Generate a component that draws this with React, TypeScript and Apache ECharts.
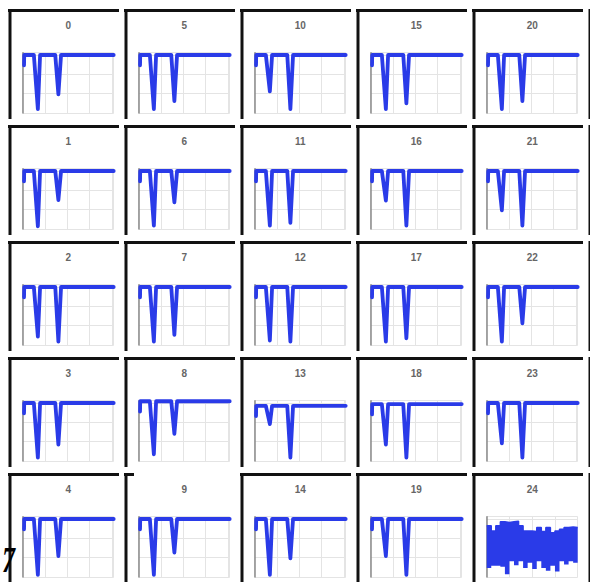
import React, { useEffect, useRef } from "react";
import * as echarts from "echarts";

// ---- data ----
const cellLabels = ["0","1","2","3","4","5","6","7","8","9","10","11","12","13","14","15","16","17","18","19","20","21","22","23","24"];
// minimum of the first dip for panels 0..23
const dip1Min = [-0.95, -0.97, -0.87, -0.96, -0.98, -0.95, -0.96, -0.96, -0.90, -0.98, -0.64, -0.96, -0.94, -0.37, -0.98, -0.95, -0.52, -0.96, -0.73, -0.65, -0.95, -0.69, -0.96, -0.71];
// minimum of the second dip for panels 0..23
const dip2Min = [-0.69, -0.51, -0.96, -0.73, -0.65, -0.81, -0.55, -0.84, -0.54, -0.59, -0.95, -0.91, -0.96, -0.96, -0.69, -0.85, -0.96, -0.90, -0.96, -0.98, -0.81, -0.96, -0.64, -0.96];
// flat level of each trace for panels 0..23
const baseLevel = [0, 0, 0, 0, 0, 0, 0, 0, 0.03, 0, 0, 0, 0, -0.05, 0, 0, 0, 0, -0.02, 0, 0, 0, 0, 0];
const startDrop = -0.18;
// x positions of the profile: start, flat, dip1 start, dip1 min, dip1 end, dip2 start, dip2 min, dip2 end, end
const profileX = [1.5, 1.7, 12.5, 17, 19.5, 36.5, 40, 43, 102];
// panel 24: envelope of the noisy band, 20 bins
const noiseTop = [-0.12, -0.21, -0.12, -0.05, -0.06, -0.05, -0.04, -0.12, -0.21, -0.21, -0.22, -0.15, -0.22, -0.15, -0.24, -0.21, -0.18, -0.15, -0.14, -0.15];
const noiseBottom = [-0.86, -0.82, -0.82, -0.84, -0.97, -0.74, -0.81, -0.74, -0.86, -0.77, -0.88, -0.74, -0.86, -0.91, -0.82, -0.92, -0.74, -0.80, -0.74, -0.77];

const BLUE = "#2a3be8";
const GRID_COLOR = "#e4e4e4";

export default function App() {
  const ref = useRef<HTMLDivElement>(null);
  useEffect(() => {
    if (!ref.current) return;
    const chart = echarts.init(ref.current, undefined, { renderer: "svg" });
    const grids: any[] = [];
    const xAxes: any[] = [];
    const yAxes: any[] = [];
    const series: any[] = [];
    const graphics: any[] = [];
    const PITCH = 116;
    for (let i = 0; i < 25; i++) {
      const col = Math.floor(i / 5);
      const row = i % 5;
      const ox = 9 + col * PITCH;
      const oy = 9 + row * PITCH;
      const gl = ox + 13.7;
      const gt = oy + 43.7;
      const gw = 91;
      const gh = 60.4;
      grids.push({ left: gl, top: gt, width: gw, height: gh, containLabel: false });
      yAxes.push({
        gridIndex: i,
        type: "value",
        min: -1.02,
        max: 0.04,
        interval: 0.34,
        axisLine: { show: true, onZero: false, lineStyle: { color: "#8a8a8a", width: 1.5 } },
        axisTick: { show: false },
        axisLabel: { show: false },
        splitLine: { show: true, lineStyle: { color: GRID_COLOR, width: 1 } },
      });
      if (i < 24) {
        xAxes.push({
          gridIndex: i,
          type: "value",
          min: 0,
          max: 102,
          interval: 25,
          axisLine: { show: false },
          axisTick: { show: false },
          axisLabel: { show: false },
          splitLine: { show: true, lineStyle: { color: GRID_COLOR, width: 1 } },
        });
        const b = baseLevel[i];
        const ys = [b + startDrop, b, b, dip1Min[i], b, b, dip2Min[i], b, b];
        series.push({
          type: "line",
          xAxisIndex: i,
          yAxisIndex: i,
          symbol: "none",
          silent: true,
          data: profileX.map((x, k) => [x, ys[k]]),
          lineStyle: { color: BLUE, width: 3.8, join: "round", cap: "round" },
        });
      } else {
        const edges = noiseBottom.map((_, k) => String(k)).concat([String(noiseBottom.length)]);
        const lower = noiseBottom.concat([noiseBottom[noiseBottom.length - 1]]);
        const upper = noiseTop.concat([noiseTop[noiseTop.length - 1]]);
        const diff = upper.map((u, k) => +(u - lower[k]).toFixed(3));
        xAxes.push({
          gridIndex: i,
          type: "category",
          boundaryGap: false,
          data: edges,
          axisLine: { show: false },
          axisTick: { show: false },
          axisLabel: { show: false },
          splitLine: { show: true, interval: 4, lineStyle: { color: GRID_COLOR, width: 1 } },
        });
        series.push({
          type: "line",
          xAxisIndex: i,
          yAxisIndex: i,
          stack: "noise",
          stackStrategy: "all",
          step: "end",
          symbol: "none",
          silent: true,
          data: lower,
          lineStyle: { width: 0, opacity: 0 },
        });
        series.push({
          type: "line",
          xAxisIndex: i,
          yAxisIndex: i,
          stack: "noise",
          stackStrategy: "all",
          step: "end",
          symbol: "none",
          silent: true,
          data: diff,
          lineStyle: { color: BLUE, width: 1.5 },
          areaStyle: { color: BLUE, opacity: 1 },
        });
      }
      // panel title
      graphics.push({
        type: "text",
        x: gl + gw / 2,
        y: oy + 16,
        z: 20,
        style: {
          text: cellLabels[i],
          textAlign: "center",
          textVerticalAlign: "middle",
          fontSize: 10,
          fontWeight: "bold",
          fontFamily: "Liberation Sans, Arial, sans-serif",
          fill: "#666",
        },
      });
      // frame: top and left black borders
      const topLen = i === 9 ? 9 : 110;
      graphics.push({
        type: "line",
        z: 20,
        shape: { x1: ox - 1, y1: oy + 1.5, x2: ox + topLen, y2: oy + 1.5 },
        style: { stroke: "#111", lineWidth: 3 },
      });
      graphics.push({
        type: "line",
        z: 20,
        shape: { x1: ox + 1, y1: oy, x2: ox + 1, y2: oy + 110 },
        style: { stroke: "#111", lineWidth: 3 },
      });
      if (col === 4) {
        graphics.push({
          type: "line",
          z: 20,
          shape: { x1: ox + PITCH + 1, y1: oy, x2: ox + PITCH + 1, y2: oy + 110 },
          style: { stroke: "#111", lineWidth: 3 },
        });
      }
    }
    graphics.push({
      type: "text",
      x: 2,
      y: 560,
      scaleX: 0.72,
      z: 30,
      style: {
        text: "7",
        fontSize: 36,
        fontStyle: "italic",
        fontWeight: "bold",
        fontFamily: "Liberation Serif, serif",
        textVerticalAlign: "middle",
        fill: new echarts.graphic.LinearGradient(0, 0, 0, 1, [
          { offset: 0.3, color: "#c98a2a" },
          { offset: 0.7, color: "#1a1410" },
        ]),
      },
    });

    chart.setOption({
      animation: false,
      backgroundColor: "#ffffff",
      grid: grids,
      xAxis: xAxes,
      yAxis: yAxes,
      series,
      graphic: graphics,
    });
    return () => chart.dispose();
  }, []);
  return (
    <div
      ref={ref}
      style={{ position: "fixed", left: 0, top: 0, width: 590, height: 582, background: "#fff" }}
    />
  );
}
